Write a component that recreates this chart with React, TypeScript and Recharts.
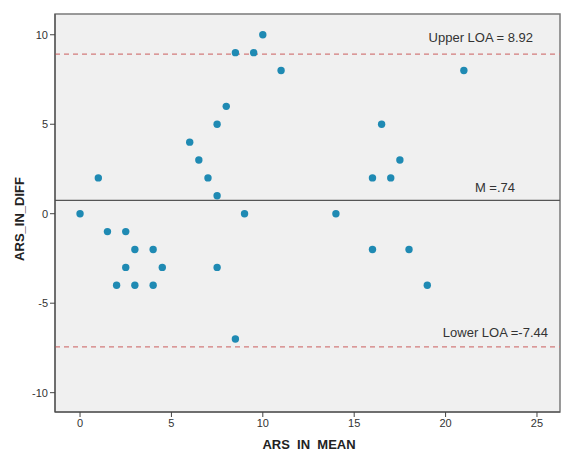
import React from 'react';
import {
  ScatterChart,
  Scatter,
  XAxis,
  YAxis,
  ReferenceLine,
  ReferenceArea,
} from 'recharts';

// ARS_IN mean vs. difference (Bland-Altman)
const meanValues = [
  0, 1, 1.5, 2, 2.5, 2.5, 3, 3, 4, 4, 4.5, 6, 6.5, 7, 7.5, 7.5, 7.5, 8, 8.5, 8.5,
  9, 9.5, 10, 11, 14, 16, 16, 16.5, 17, 17.5, 18, 19, 21,
];
const diffValues = [
  0, 2, -1, -4, -1, -3, -2, -4, -2, -4, -3, 4, 3, 2, 5, 1, -3, 6, 9, -7,
  0, 9, 10, 8, 0, 2, -2, 5, 2, 3, -2, -4, 8,
];

const xTicks = [0, 5, 10, 15, 20, 25];
const yTicks = [-10, -5, 0, 5, 10];
const xDomain: [number, number] = [-1.37, 26.26];
const yDomain: [number, number] = [-11.08, 11.16];

const meanDiff = 0.74;
const upperLoa = 8.92;
const lowerLoa = -7.44;

const points = meanValues.map((m, i) => ({ mean: m, diff: diffValues[i] }));

const FONT = '"Liberation Sans", Arial, sans-serif';

function lineLabel(text: string, dx: number, dy: number) {
  return (props: any) => {
    const vb = props.viewBox || {};
    return (
      <text
        x={vb.x + vb.width - dx}
        y={vb.y - dy}
        textAnchor="end"
        fontFamily={FONT}
        fontSize={13}
        fill="#333"
      >
        {text}
      </text>
    );
  };
}

export default function App() {
  return (
    <div style={{ position: 'absolute', left: 0, top: 0, background: '#fff' }}>
      <ScatterChart
        width={561}
        height={452}
        margin={{ top: 14, right: 1, left: 0, bottom: 0 }}
      >
        <ReferenceArea
          x1={xDomain[0]}
          x2={xDomain[1]}
          y1={yDomain[0]}
          y2={yDomain[1]}
          fill="#f0f0f0"
          fillOpacity={1}
          stroke="#7a7a7a"
          strokeWidth={1.5}
        />
        <XAxis
          type="number"
          dataKey="mean"
          domain={xDomain}
          ticks={xTicks}
          allowDataOverflow
          height={40}
          stroke="#444"
          tickSize={5}
          tick={{ fontSize: 11, fill: '#333', fontFamily: FONT }}
          label={(props: any) => {
            const vb = props.viewBox || {};
            return (
              <text
                x={309}
                y={vb.y + 37}
                textAnchor="middle"
                fontFamily={FONT}
                fontSize={13}
                fontWeight="bold"
                fill="#222"
                style={{ whiteSpace: 'pre' }}
              >
                {'ARS  IN  MEAN'}
              </text>
            );
          }}
        />
        <YAxis
          type="number"
          dataKey="diff"
          domain={yDomain}
          ticks={yTicks}
          allowDataOverflow
          width={55}
          stroke="#444"
          tickSize={5}
          tick={{ fontSize: 11, fill: '#333', fontFamily: FONT }}
          label={(props: any) => {
            const vb = props.viewBox || {};
            const cy = vb.y + vb.height / 2 + 6;
            return (
              <text
                x={24}
                y={cy}
                transform={`rotate(-90 24 ${cy})`}
                textAnchor="middle"
                fontFamily={FONT}
                fontSize={13}
                fontWeight="bold"
                fill="#222"
              >
                ARS_IN_DIFF
              </text>
            );
          }}
        />
        <ReferenceLine
          y={upperLoa}
          stroke="#d27b7b"
          strokeWidth={1.2}
          strokeDasharray="5 4"
          label={lineLabel('Upper LOA = 8.92', 27, 12)}
        />
        <ReferenceLine
          y={meanDiff}
          stroke="#555"
          strokeWidth={1.3}
          label={lineLabel('M =.74', 45, 8)}
        />
        <ReferenceLine
          y={lowerLoa}
          stroke="#d27b7b"
          strokeWidth={1.2}
          strokeDasharray="5 4"
          label={lineLabel('Lower LOA =-7.44', 12, 10)}
        />
        <Scatter
          data={points}
          fill="#1f8ab3"
          shape={(p: any) => <circle cx={p.cx} cy={p.cy} r={3.7} fill="#1f8ab3" />}
          isAnimationActive={false}
        />
      </ScatterChart>
    </div>
  );
}
